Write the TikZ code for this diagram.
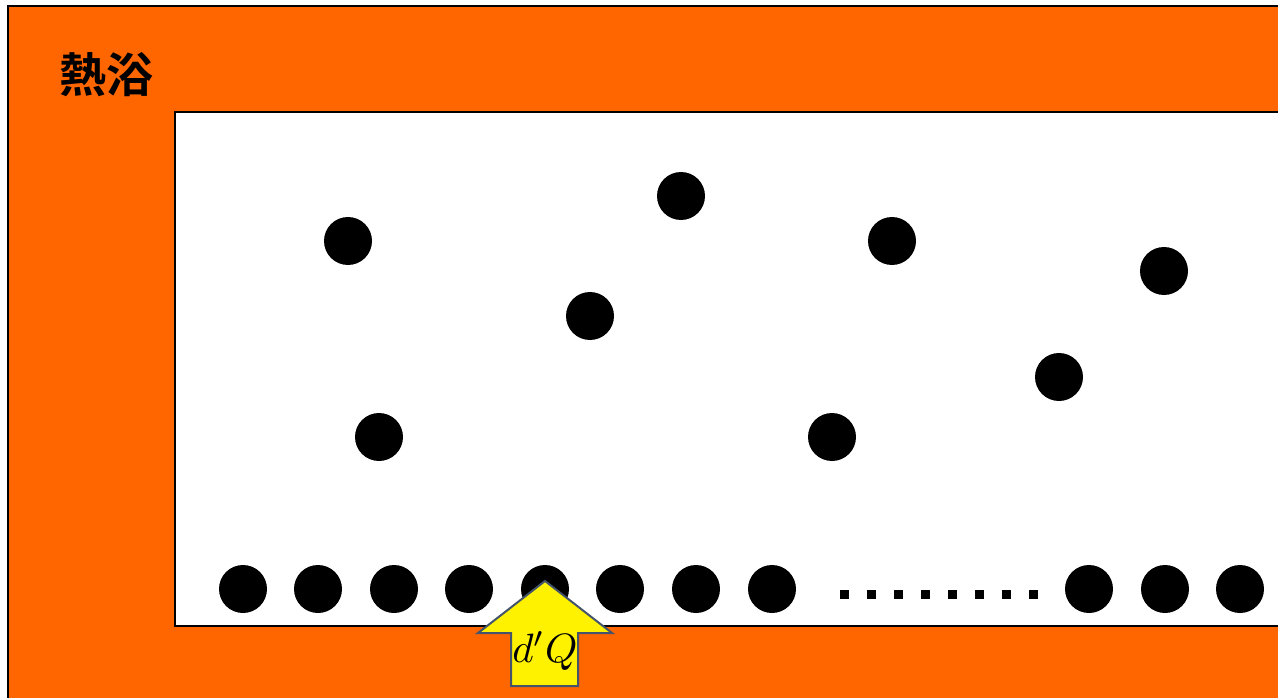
\documentclass[tikz,border=0pt]{standalone}
\usepackage{fontspec}
\newfontfamily\cjk{Noto Sans CJK JP Bold}
\definecolor{bathorange}{HTML}{FF6600}
\definecolor{arrowedge}{HTML}{44546A}
\begin{document}
\begin{tikzpicture}[x=1pt,y=-1pt,
  particle/.style={circle,fill=black,inner sep=0pt,minimum size=48pt},
  dotsq/.style={fill=black,inner sep=0pt,minimum size=9pt},
  wall/.style={draw=black,line width=2pt}]
\useasboundingbox (0,0) rectangle (1278,698);
\clip (0,0) rectangle (1278,698);
% heat bath
\fill[bathorange] (8,6) rectangle (1290,710);
\draw[wall] (8,710) -- (8,6) -- (1290,6);
\node[font={\cjk\fontsize{47}{50}\selectfont}] (bath) at (106,75) {熱浴};
% system
\fill[white] (175,112) rectangle (1290,626);
\draw[wall] (1290,112) -- (175,112) -- (175,626) -- (1290,626);
% gas particles
\foreach \n/\x/\y in {g1/348/241,g2/681/196,g3/892/241,g4/1164/271,g5/590/316,g6/1059/377,g7/379/437,g8/832/437}
  \node[particle] (\n) at (\x,\y) {};
% bottom row
\foreach \n/\x in {b1/243,b2/318,b3/394,b4/469,b5/545,b6/620,b7/696,b8/772,b9/1089,b10/1165,b11/1240}
  \node[particle] (\n) at (\x,589) {};
\foreach \i in {0,...,7}
  \node[dotsq] (d\i) at ({844+27*\i},594) {};
% heat arrow
\draw[fill=yellow,draw=arrowedge,line width=2pt,line join=miter]
  (545,581) -- (612,633) -- (578,633) -- (578,686) -- (511,686) -- (511,633) -- (478,633) -- cycle;
\node[scale=4.1,inner sep=0pt] (dq) at (545,651) {$d'Q$};
\end{tikzpicture}
\end{document}
